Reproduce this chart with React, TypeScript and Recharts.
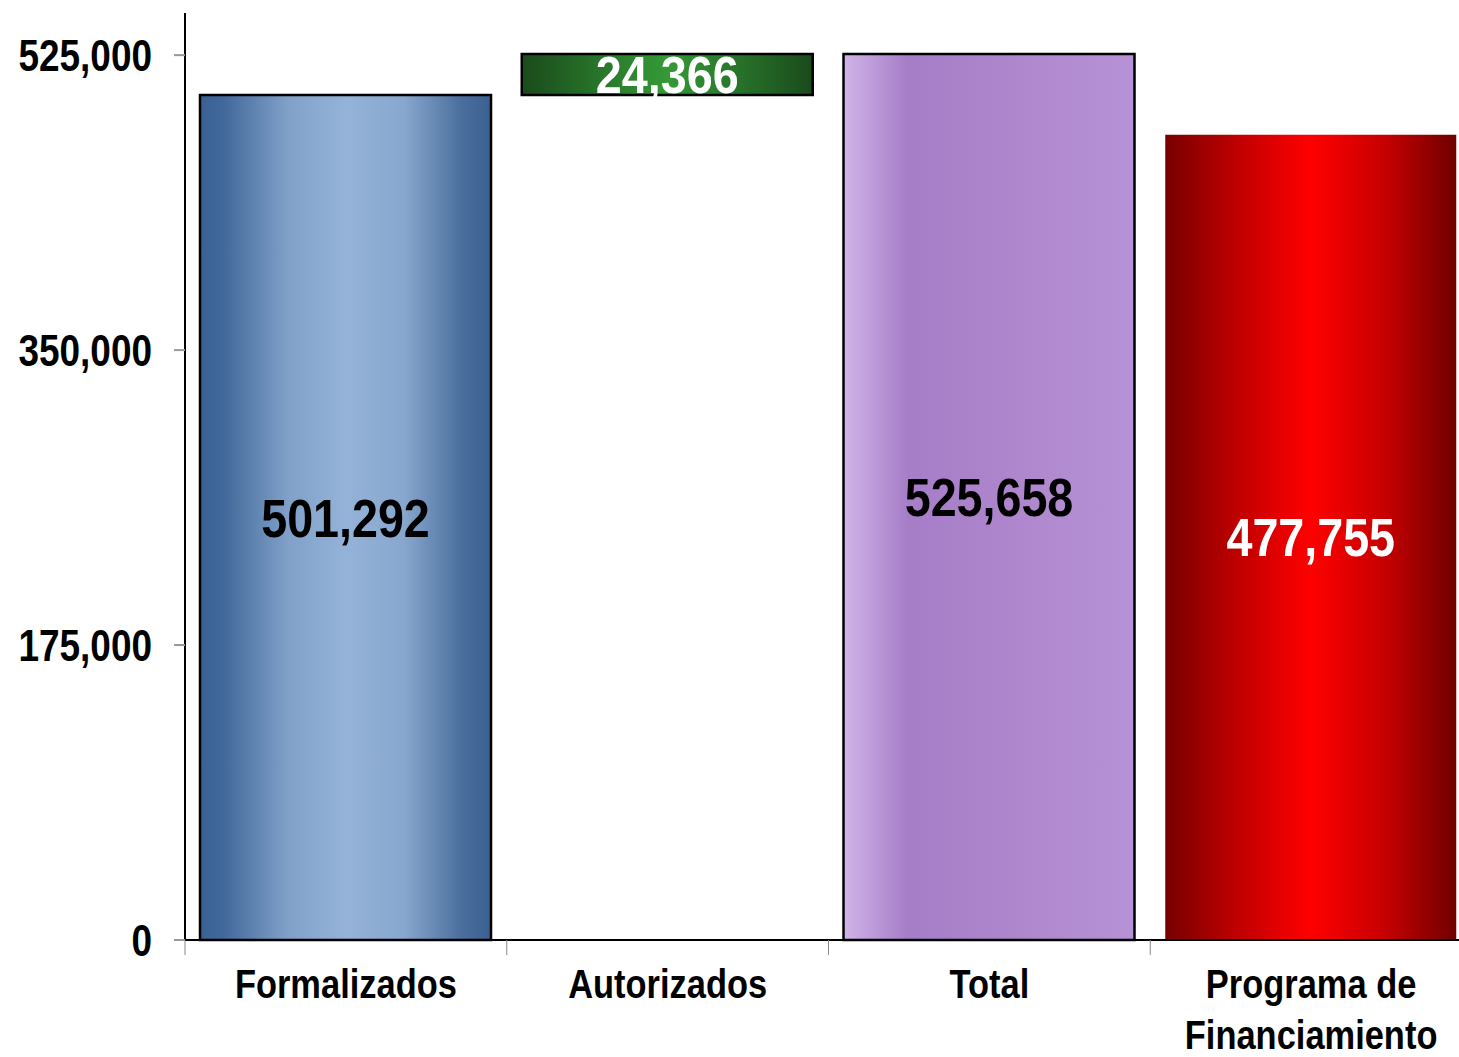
import { Bar, BarChart, XAxis, YAxis, LabelList, Cell } from "recharts";

const categories = ["Formalizados", "Autorizados", "Total", "Programa de Financiamiento"];
const baseValues = [0, 501292, 0, 0];
const barValues = [501292, 24366, 525658, 477755];
const yTicks = [0, 175000, 350000, 525000];

const gradientIds = ["gBlue", "gGreen", "gPurple", "gRed"];
const labelColors = ["#000000", "#ffffff", "#000000", "#ffffff"];
const strokes = ["#000000", "#000000", "#000000", "none"];

const data = categories.map((name, i) => ({ name, base: baseValues[i], value: barValues[i] }));

// no narrow font installed, so squeeze Liberation Sans bold
const FONT = "'Liberation Sans', Arial, sans-serif";
const SQUEEZE = 0.84;

const fmt = (v: number) => v.toLocaleString("en-US");

function NarrowText({ x, y, size, anchor = "middle", fill = "#000", dy = 0, sx = SQUEEZE, children }: any) {
  return (
    <text
      transform={`translate(${x},${y}) scale(${sx},1)`}
      x={0}
      y={0}
      dy={dy}
      textAnchor={anchor}
      fontFamily={FONT}
      fontWeight="bold"
      fontSize={size}
      fill={fill}
    >
      {children}
    </text>
  );
}

function CategoryTick(props: any) {
  const { x, payload } = props;
  const half = payload?.offset ?? 161;
  const words = String(payload.value).split(" ");
  const lines = words.length > 2 ? [words.slice(0, 2).join(" "), words.slice(2).join(" ")] : [String(payload.value)];
  return (
    <g>
      <line x1={x - half} x2={x - half} y1={940} y2={955} stroke="#888" strokeWidth={1} />
      {lines.map((l, i) => (
        <NarrowText key={i} x={x} y={998 + i * 51} size={41}>
          {l}
        </NarrowText>
      ))}
    </g>
  );
}

function ValueTick(props: any) {
  const { x, y, payload } = props;
  return (
    <NarrowText x={x} y={y} size={44} anchor="end" dy="0.355em">
      {fmt(Number(payload.value))}
    </NarrowText>
  );
}

export default function App() {
  return (
    <div style={{ position: "absolute", left: 0, top: 0, width: 1459, height: 1057, overflow: "hidden", background: "#fff" }}>
      <BarChart width={1479} height={1057} data={data} margin={{ top: 13, right: 7, left: 0, bottom: 0 }} barSize={291}>
        <defs>
          <linearGradient id="gBlue" x1="0" y1="0" x2="1" y2="0">
            <stop offset="0" stopColor="#3a6192" />
            <stop offset="0.08" stopColor="#41689a" />
            <stop offset="0.3" stopColor="#80a0c8" />
            <stop offset="0.5" stopColor="#95b3d8" />
            <stop offset="0.7" stopColor="#88a7ce" />
            <stop offset="0.9" stopColor="#4a6e9c" />
            <stop offset="1" stopColor="#3a6192" />
          </linearGradient>
          <linearGradient id="gGreen" x1="0" y1="0" x2="1" y2="0">
            <stop offset="0" stopColor="#1a4a1c" />
            <stop offset="0.3" stopColor="#2a7a2c" />
            <stop offset="0.5" stopColor="#349a36" />
            <stop offset="0.7" stopColor="#2a7a2c" />
            <stop offset="1" stopColor="#1a4a1c" />
          </linearGradient>
          <linearGradient id="gPurple" x1="0" y1="0" x2="1" y2="0">
            <stop offset="0" stopColor="#d0b4e8" />
            <stop offset="0.22" stopColor="#a67ec8" />
            <stop offset="0.5" stopColor="#ac84cb" />
            <stop offset="1" stopColor="#b792d6" />
          </linearGradient>
          <linearGradient id="gRed" x1="0" y1="0" x2="1" y2="0">
            <stop offset="0" stopColor="#780000" />
            <stop offset="0.25" stopColor="#c00000" />
            <stop offset="0.5" stopColor="#ff0000" />
            <stop offset="0.75" stopColor="#c80000" />
            <stop offset="1" stopColor="#700000" />
          </linearGradient>
        </defs>
        <XAxis
          dataKey="name"
          height={117}
          interval={0}
          axisLine={{ stroke: "#000", strokeWidth: 2 }}
          tickLine={false}
          tick={<CategoryTick />}
        />
        <YAxis
          width={185}
          domain={[0, 550000]}
          ticks={yTicks}
          axisLine={{ stroke: "#000", strokeWidth: 2 }}
          tickLine={{ stroke: "#999", strokeWidth: 2 }}
          tickSize={11}
          tickMargin={22}
          tick={<ValueTick />}
        />
        <Bar dataKey="base" stackId="w" fill="transparent" isAnimationActive={false} />
        <Bar dataKey="value" stackId="w" isAnimationActive={false} strokeWidth={2.5}>
          {data.map((d, i) => (
            <Cell key={d.name} fill={`url(#${gradientIds[i]})`} stroke={strokes[i]} />
          ))}
          <LabelList
            dataKey="value"
            position="center"
            content={(p: any) => {
              const { x, y, width, height, value, index } = p;
              const small = index === 1;
              return (
                <NarrowText
                  x={x + width / 2}
                  y={y + height / 2}
                  dy="0.36em"
                  size={small ? 52 : 53}
                  sx={small ? 0.76 * (142 / 120) : 0.88}
                  fill={labelColors[index]}
                >
                  {fmt(Number(value))}
                </NarrowText>
              );
            }}
          />
        </Bar>
      </BarChart>
    </div>
  );
}
